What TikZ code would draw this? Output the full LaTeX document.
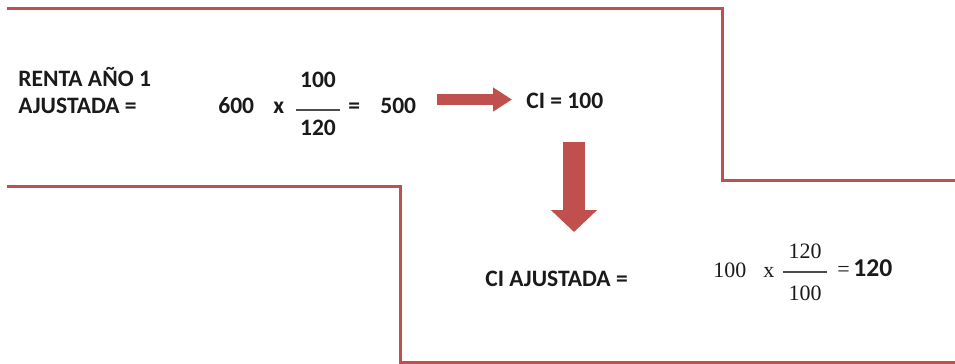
\documentclass[tikz,border=0pt]{standalone}
\usepackage{fontspec}
\setmainfont{Carlito}
\newfontfamily\timesfont{Liberation Serif}
\usetikzlibrary{arrows.meta}
\definecolor{rentared}{HTML}{C0504D}
\definecolor{inkgray}{HTML}{1A1A1A}

\begin{document}
\begin{tikzpicture}
[x=0.02cm,y=-0.02cm,
  boxLine/.style={draw=rentared,line width=1.7pt,line join=miter},
  bigArrow/.style={draw=rentared,line width=#1},
  labelText/.style={anchor=base west,inner sep=0pt,text=inkgray,
    font=\fontsize{13.4}{16}\selectfont\bfseries},
  numText/.style={anchor=base,inner sep=0pt,text=inkgray,
    font=\fontsize{13.4}{16}\selectfont\bfseries},
  serifText/.style={anchor=base,inner sep=0pt,text=inkgray,
    font=\fontsize{12.5}{15}\selectfont\timesfont},
  fracBar/.style={draw=gray!60!black,line width=0.6pt}]
\useasboundingbox (0,0) rectangle (955,363);

%% step outlines
\draw[boxLine] (7,8) -- (722,8) -- (722,180) -- (955,180);
\draw[boxLine] (7,186) -- (400,186) -- (400,362) -- (955,362);

%% first row
\node (renta) at (18,86) [labelText] {RENTA AÑO 1};
\node (ajus) at (18,113) [labelText] {AJUSTADA =};
\foreach \nodename/\x/\txt in {n600/218/600, times1/273/x, eq1/348/=, n500/380/500}
{
  \node (\nodename) at (\x,113) [labelText] {\txt};
}
\node (num1) at (318,87) [numText] {100};
\node (den1) at (318,135) [numText] {120};
\coordinate (barA) at (296,110);
\coordinate (barB) at (340,110);
\draw[fracBar] (barA) -- (barB);
\node (ci) at (526,108) [labelText] {CI = 100};

%% second row
\node (ciaj) at (485,286) [labelText] {CI AJUSTADA =};
\node (s100) at (713,277) [serifText,anchor=base west] {100};
\node (times2) at (763,277) [serifText,anchor=base west] {x};
\node (num2) at (805,258) [serifText] {120};
\node (den2) at (805,300) [serifText] {100};
\coordinate (barC) at (783,272);
\coordinate (barD) at (827,272);
\draw[fracBar] (barC) -- (barD);
\node (eq2) at (837,276) [serifText,anchor=base west] {=};
\node (res) at (853,276) [labelText,font=\fontsize{14.6}{17}\selectfont\bfseries] {120};

%% block arrows
\coordinate (rStart) at (437,99.5);
\coordinate (rTip) at (512,99.5);
\coordinate (dStart) at (574,142);
\coordinate (dTip) at (574,232);
\draw[bigArrow=0.22cm,-{Triangle[width=0.46cm,length=0.38cm]},fill=rentared] (rStart) -- (rTip);
\draw[bigArrow=0.44cm,-{Triangle[width=0.9cm,length=0.44cm]},fill=rentared] (dStart) -- (dTip);
\end{tikzpicture}
\end{document}
